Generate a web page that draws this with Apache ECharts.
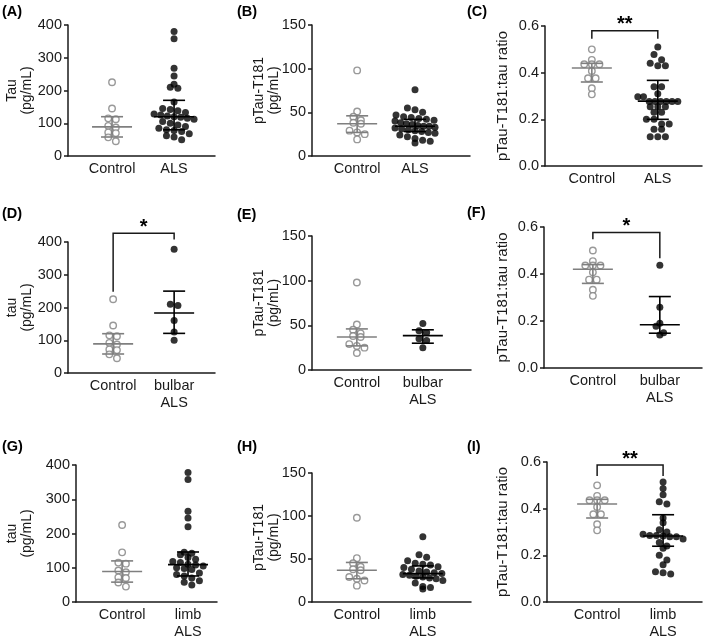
<!DOCTYPE html>
<html><head><meta charset="utf-8">
<script src="https://cdn.jsdelivr.net/npm/echarts@6/dist/echarts.min.js"></script>
<style>html,body{margin:0;padding:0;background:#fff}#c{width:709px;height:640px}</style>
</head><body><div id="c"></div>
<script>
// ---------------- data ----------------
const controlTau   = [225, 145, 115, 112, 92, 87, 72, 70, 57, 45];
const controlPTau  = [98, 51, 45, 41, 38, 37, 29, 27, 25, 19];
const controlRatio = [0.50, 0.455, 0.436, 0.436, 0.436, 0.407, 0.376, 0.376, 0.333, 0.307];

const alsTau   = [380, 358, 268, 244, 219, 210, 207, 165, 145, 142, 138, 133, 128, 125, 122, 120, 118, 115, 112, 105, 100, 95, 90, 85, 80, 78, 75, 68, 62, 58, 50];
const alsPTau  = [76, 55, 53, 50, 47, 45, 44, 43, 42, 41, 40, 38, 37, 36, 35, 34, 34, 33, 32, 31, 30, 29, 28, 27, 26, 24, 22, 20, 18, 17, 15];
const alsRatio = [0.51, 0.478, 0.455, 0.44, 0.43, 0.43, 0.34, 0.34, 0.31, 0.297, 0.297, 0.276, 0.276, 0.276, 0.276, 0.276, 0.276, 0.254, 0.254, 0.254, 0.23, 0.23, 0.2, 0.2, 0.18, 0.18, 0.157, 0.157, 0.125, 0.125, 0.125];

const bulbarTau   = [378, 210, 206, 160, 125, 100];
const bulbarPTau  = [52, 44, 42, 35, 33, 25];
const bulbarRatio = [0.437, 0.258, 0.19, 0.178, 0.15, 0.14];

const limbTau   = [378, 358, 265, 245, 220, 145, 142, 138, 130, 125, 118, 115, 110, 108, 105, 100, 98, 95, 85, 80, 76, 70, 62, 58, 50];
const limbPTau  = [76, 55, 52, 48, 45, 44, 43, 41, 40, 38, 36, 35, 34, 33, 32, 31, 30, 29, 28, 27, 25, 22, 18, 17, 15];
const limbRatio = [0.514, 0.486, 0.46, 0.43, 0.42, 0.36, 0.34, 0.31, 0.30, 0.29, 0.285, 0.285, 0.283, 0.28, 0.28, 0.27, 0.255, 0.24, 0.23, 0.2, 0.18, 0.16, 0.13, 0.125, 0.12];

// [median, lower whisker, upper whisker]
const controlTauBar   = [89, 58, 120];
const alsTauBar       = [120, 80, 170];
const bulbarTauBar    = [183, 121, 250];
const limbTauBar      = [109, 76, 146];
const controlPTauBar  = [37, 27, 46];
const alsPTauBar      = [34, 28, 42];
const bulbarPTauBar   = [38.5, 30, 45];
const limbPTauBar     = [33, 28, 42];
const controlRatioBar = [0.42, 0.36, 0.44];
const alsRatioBar     = [0.278, 0.2, 0.367];
const bulbarRatioBar  = [0.184, 0.148, 0.304];
const limbRatioBar    = [0.283, 0.239, 0.374];

const panelLabels = ['(A)', '(B)', '(C)', '(D)', '(E)', '(F)', '(G)', '(H)', '(I)'];
const groupLabels = [
  ['Control', 'ALS'], ['Control', 'ALS'], ['Control', 'ALS'],
  ['Control', 'bulbar\nALS'], ['Control', 'bulbar\nALS'], ['Control', 'bulbar\nALS'],
  ['Control', 'limb\nALS'], ['Control', 'limb\nALS'], ['Control', 'limb\nALS']
];
const yTitles = [
  'Tau\n(pg/mL)', 'pTau-T181\n(pg/mL)', 'pTau-T181:tau ratio',
  'tau\n(pg/mL)', 'pTau-T181\n(pg/mL)', 'pTau-T181:tau ratio',
  'tau\n(pg/mL)', 'pTau-T181\n(pg/mL)', 'pTau-T181:tau ratio'
];
const yMaxes    = [400, 150, 0.6, 400, 150, 0.6, 400, 150, 0.6];
const yTickStep = [100, 50, 0.2, 100, 50, 0.2, 100, 50, 0.2];
const pointSets = [
  [controlTau, alsTau], [controlPTau, alsPTau], [controlRatio, alsRatio],
  [controlTau, bulbarTau], [controlPTau, bulbarPTau], [controlRatio, bulbarRatio],
  [controlTau, limbTau], [controlPTau, limbPTau], [controlRatio, limbRatio]
];
const barSets = [
  [controlTauBar, alsTauBar], [controlPTauBar, alsPTauBar], [controlRatioBar, alsRatioBar],
  [controlTauBar, bulbarTauBar], [controlPTauBar, bulbarPTauBar], [controlRatioBar, bulbarRatioBar],
  [controlTauBar, limbTauBar], [controlPTauBar, limbPTauBar], [controlRatioBar, limbRatioBar]
];
// significance: [stars, bracket top, left drop end, right drop end] in data units
const significance = [null, null, ['**', 0.58, 0.545, 0.545], ['*', 427, 248, 408], null,
  ['*', 0.577, 0.548, 0.467], null, null, ['**', 0.587, 0.54, 0.54]];

// ---------------- layout (pixels) ----------------
const layout = [
  {left: 68,  top: 25,  w: 147, h: 131, xmin: 0.29, xmax: 2.66, gap: 33, lab: [2, 12]},
  {left: 312, top: 25,  w: 158, h: 131, xmin: 0.22, xmax: 2.95, gap: 30, lab: [237, 12]},
  {left: 545, top: 26,  w: 157, h: 140, xmin: 0.29, xmax: 2.67, gap: 35, lab: [467, 12]},
  {left: 68,  top: 242, w: 147, h: 131, xmin: 0.26, xmax: 2.67, gap: 33, lab: [2, 214]},
  {left: 312, top: 236, w: 159, h: 134, xmin: 0.32, xmax: 2.73, gap: 30, lab: [237, 215]},
  {left: 544, top: 227, w: 158, h: 141, xmin: 0.27, xmax: 2.63, gap: 34, lab: [467, 213]},
  {left: 76,  top: 465, w: 141, h: 139, xmin: 0.30, xmax: 2.44, gap: 41, lab: [2, 447]},
  {left: 312, top: 473, w: 159, h: 131, xmin: 0.32, xmax: 2.73, gap: 30, lab: [237, 447]},
  {left: 547, top: 462, w: 155, h: 140, xmin: 0.24, xmax: 2.59, gap: 37, lab: [467, 447]}
];

const FONT = "'Liberation Sans', Arial, Helvetica, sans-serif";
const AXIS_COLOR = '#1a1a1a';
const GREY = '#7f7f7f';
const BIN = 7;       // vertical bin height in px
const SPACING = 7.6; // horizontal spacing of dots inside a bin, px
const MAX_HALF = 20; // max half-width of a row of dots, px

// binned dot-plot offsets (px), like a column scatter plot
function swarm(values, pxPerY) {
  const bins = {};
  values.forEach((v, i) => {
    const b = Math.floor(v * pxPerY / BIN);
    (bins[b] = bins[b] || []).push(i);
  });
  const out = new Array(values.length).fill(0);
  Object.keys(bins).forEach(k => {
    const idx = bins[k];
    const n = idx.length;
    const sp = n > 1 ? Math.min(SPACING, 2 * MAX_HALF / (n - 1)) : 0;
    idx.forEach((i, j) => { out[i] = (j - (n - 1) / 2) * sp; });
  });
  return out;
}

const grid = [], xAxis = [], yAxis = [], series = [], graphic = [];

layout.forEach((L, p) => {
  grid.push({left: L.left, top: L.top, width: L.w, height: L.h});
  const labels = groupLabels[p];
  xAxis.push({
    type: 'value', gridIndex: p, min: L.xmin, max: L.xmax,
    axisLine: {show: true, lineStyle: {color: AXIS_COLOR, width: 1.5}},
    axisTick: {show: false}, splitLine: {show: false},
    axisLabel: {
      customValues: [1, 2], margin: 4, color: '#1a1a1a', fontFamily: FONT, fontSize: 14.5,
      lineHeight: 17, formatter: v => (Math.round(v) === 1 ? labels[0] : labels[1])
    }
  });
  const step = yTickStep[p];
  yAxis.push({
    type: 'value', gridIndex: p, min: 0, max: yMaxes[p], interval: step,
    name: yTitles[p], nameLocation: 'middle', nameGap: L.gap, nameMoveOverlap: false,
    nameTextStyle: {color: '#1a1a1a', fontFamily: FONT, fontSize: step < 1 ? 15 : 14, lineHeight: 15},
    axisLine: {show: true, lineStyle: {color: AXIS_COLOR, width: 1.5}},
    axisTick: {show: true, length: 4, lineStyle: {color: AXIS_COLOR, width: 1.5}},
    splitLine: {show: false},
    axisLabel: {margin: 6, color: '#1a1a1a', fontFamily: FONT, fontSize: 14.5,
      formatter: v => (step < 1 ? v.toFixed(1) : String(v))}
  });

  const pxPerY = L.h / yMaxes[p];
  const pxPerX = L.w / (L.xmax - L.xmin);
  pointSets[p].forEach((vals, g) => {
    const off = swarm(vals, pxPerY);
    series.push({
      type: 'scatter', xAxisIndex: p, yAxisIndex: p, silent: true, z: 2,
      symbol: 'circle', symbolSize: g === 0 ? 6.5 : 7,
      itemStyle: g === 0 ? {color: '#fff', borderColor: GREY, borderWidth: 1.4} : {color: '#000'},
      data: vals.map((v, i) => [g + 1 + off[i] / pxPerX, v])
    });
  });

  series.push({
    type: 'custom', xAxisIndex: p, yAxisIndex: p, silent: true, z: 5,
    encode: {x: 0, y: [1, 2, 3]},
    data: barSets[p].map((b, g) => [g + 1, b[0], b[1], b[2]]),
    renderItem: (params, api) => {
      const x = api.value(0);
      const m = api.coord([x, api.value(1)]);
      const lo = api.coord([x, api.value(2)]);
      const hi = api.coord([x, api.value(3)]);
      const col = params.dataIndex === 0 ? GREY : '#000';
      const st = {stroke: col, lineWidth: 1.6};
      const cx = m[0];
      return {type: 'group', children: [
        {type: 'line', shape: {x1: cx - 20, y1: m[1], x2: cx + 20, y2: m[1]}, style: st},
        {type: 'line', shape: {x1: cx - 11, y1: lo[1], x2: cx + 11, y2: lo[1]}, style: st},
        {type: 'line', shape: {x1: cx - 11, y1: hi[1], x2: cx + 11, y2: hi[1]}, style: st},
        {type: 'line', shape: {x1: cx, y1: lo[1], x2: cx, y2: hi[1]}, style: st}
      ]};
    }
  });

  const sig = significance[p];
  if (sig) {
    series.push({
      type: 'custom', xAxisIndex: p, yAxisIndex: p, silent: true, z: 6, clip: false,
      encode: {x: 0, y: 1},
      data: [[1, sig[1], sig[2], sig[3]]],
      renderItem: (params, api) => {
        const top1 = api.coord([1, api.value(1)]);
        const top2 = api.coord([2, api.value(1)]);
        const l = api.coord([1, api.value(2)]);
        const r = api.coord([2, api.value(3)]);
        return {type: 'group', children: [
          {type: 'polyline', shape: {points: [l, top1, top2, r]},
           style: {stroke: '#1a1a1a', lineWidth: 1.5, fill: null}},
          {type: 'text', x: (top1[0] + top2[0]) / 2, y: top1[1] - 6,
           style: {text: sig[0], fill: '#000', font: 'bold 20px ' + FONT,
                   textAlign: 'center', textVerticalAlign: 'middle'}}
        ]};
      }
    });
  }

  graphic.push({type: 'text', left: L.lab[0], top: L.lab[1] - 8,
    style: {text: panelLabels[p], fill: '#000', font: 'bold 14.5px ' + FONT}});
});

const chart = echarts.init(document.getElementById('c'), null, {renderer: 'canvas'});
chart.setOption({animation: false, backgroundColor: '#fff', grid, xAxis, yAxis, series, graphic});
</script>
</body></html>
